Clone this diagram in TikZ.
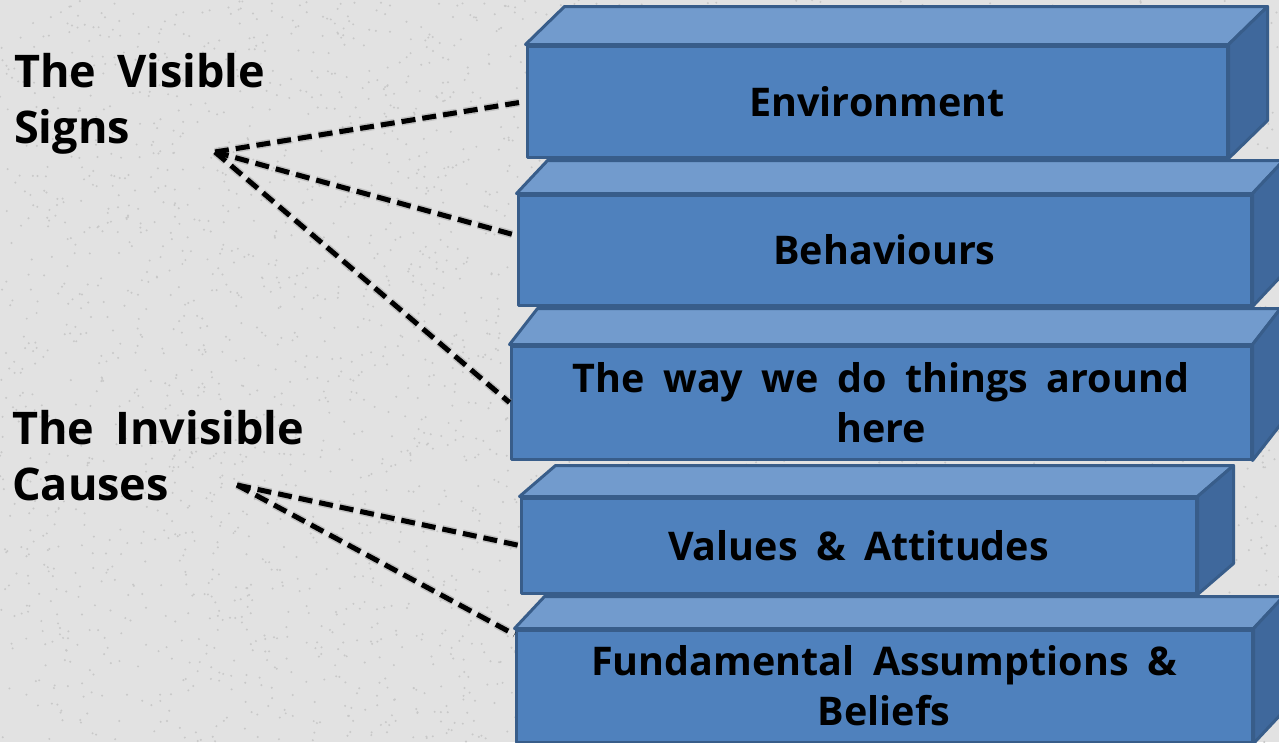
\documentclass[tikz,border=0pt]{standalone}
\usepackage{fontspec}
\setmainfont{Open Sans}[WordSpace=1.8]
\usetikzlibrary{calc}
\definecolor{bg}{RGB}{226,226,226}
\definecolor{speck}{RGB}{200,200,200}
\definecolor{frontc}{RGB}{79,129,189}
\definecolor{topc}{RGB}{114,155,205}
\definecolor{sidec}{RGB}{63,104,156}
\definecolor{edgec}{RGB}{56,93,138}
\tikzset{
  face/.style={draw=edgec, line width=3pt, line join=round},
  frontbox/.style={face, fill=frontc, inner sep=0pt, align=center, text=black,
    font=\bfseries\fontsize{39.5}{50}\selectfont},
  sidetext/.style={inner sep=0pt, align=left, text=black, anchor=north west,
    font=\bfseries\fontsize{45}{56}\selectfont},
  link/.style={draw=black, line width=5pt, dash pattern=on 14pt off 7pt},
  linkshadow/.style={draw=black!45, opacity=0.35, line width=8pt, dash pattern=on 14pt off 7pt}
}
% name, L, T, R, B, dx, dy, text
\newcommand\mycube[8]{%
  \node[frontbox, minimum width={(#4-#2)*1pt}, minimum height={(#5-#3)*1pt}] (#1) at ({(#2+#4)/2},{(#3+#5)/2}) {#8};
  \draw[face, fill=topc] (#1.north west) -- ++(#6,#7) -- ($(#1.north east)+(#6,#7)$) -- (#1.north east) -- cycle;
  \draw[face, fill=sidec] (#1.north east) -- ++(#6,#7) -- ($(#1.south east)+(#6,#7)$) -- (#1.south east) -- cycle;
}
\begin{document}
\begin{tikzpicture}[x=1pt,y=-1pt]
\fill[bg] (0,0) rectangle (1279,742);
\useasboundingbox (0,0) rectangle (1279,742);
\clip (0,0) rectangle (1279,742);
\pgfmathsetseed{7}
\foreach \i in {1,...,4000} {
  \fill[speck] ({rnd*1279},{rnd*742}) circle (1.1pt);
}
\mycube{b1}{527}{46}{1227}{157}{39}{-38}{Environment}
\mycube{b2}{518}{195}{1251}{305}{31}{-33}{Behaviours}
\mycube{b3}{511}{346}{1251}{459}{28}{-36}{The way we do things around\\here}
\mycube{b4}{521}{498}{1196}{593}{36}{-31}{Values \& Attitudes}
\mycube{b5}{516}{630}{1252}{742}{30}{-32}{Fundamental Assumptions \&\\Beliefs}

\node[sidetext] (vis) at (14,53) {The Visible\\Signs};
\node[sidetext] (invis) at (12,410) {The Invisible\\Causes};

\coordinate (vhub) at (215,152);
\coordinate (ihub) at (237,485);
\foreach \s/\st in {1.5/linkshadow, 0/link} {
  \begin{scope}[shift={(\s,\s)}]
  \draw[\st] (vhub) -- (b1.west);
  \draw[\st] (vhub) -- ($(b2.north west)+(0,42)$);
  \draw[\st] (vhub) -- (b3.west);
  \draw[\st] (ihub) -- (b4.west);
  \draw[\st] (ihub) -- ($(b5.north west)+(0,6)$);
  \end{scope}
}
\end{tikzpicture}
\end{document}
